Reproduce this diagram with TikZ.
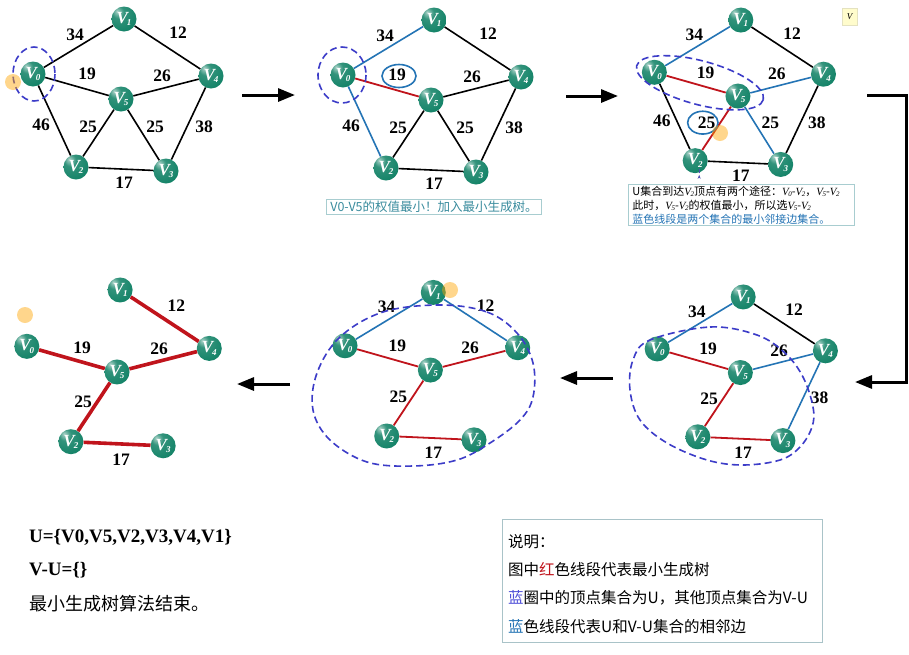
\documentclass[tikz,border=0pt]{standalone}
\usepackage{fontspec}
\setmainfont{Liberation Serif}
\newfontfamily\cjk{Noto Sans CJK SC}
\usetikzlibrary{arrows.meta,positioning,calc}
\definecolor{vgreen}{HTML}{0E8064}
\definecolor{ered}{HTML}{C0141C}
\definecolor{eblue}{HTML}{2474B5}
\definecolor{ringblue}{HTML}{3C3CC8}
\definecolor{notetxt}{HTML}{3A8C9E}
\definecolor{noteline}{HTML}{A8CDD0}
\definecolor{legline}{HTML}{A9C3C8}
\definecolor{legviolet}{HTML}{5050D8}
% green sphere with a highlight at the upper left
\pgfdeclareradialshading{sphere}{\pgfpoint{-14bp}{16bp}}{%
  color(0bp)=(vgreen!35!white); color(12bp)=(vgreen!85!white);
  color(40bp)=(vgreen); color(58bp)=(vgreen!60!black); color(80bp)=(vgreen!50!black)}

% vertex label and italic V_i inside notes
\newcommand{\vl}[1]{V\kern-1pt\raisebox{-2.5pt}{\fontsize{9}{9}\selectfont #1}}
\newcommand{\vi}[1]{{\rmfamily\itshape V\kern-0.5pt\raisebox{-1.5pt}{\fontsize{7}{7}\selectfont #1}}}
% the six vertices of one step, names #10 ... #15
\newcommand{\vertices}[1]{%
  \node[vtx] (#10) at (33,74) {\vl0};
  \node[vtx] (#11) at (124,19) {\vl1};
  \node[vtx] (#12) at (76,167) {\vl2};
  \node[vtx] (#13) at (166,171) {\vl3};
  \node[vtx] (#14) at (211,76) {\vl4};
  \node[vtx] (#15) at (121,99) {\vl5};}
% all nine weights
\newcommand{\allweights}[1]{%
  \node[wt] (#1w34) at (75,35) {34};
  \node[wt] (#1w12) at (178,33) {12};
  \node[wt] (#1w19) at (87,74) {19};
  \node[wt] (#1w26) at (162,76) {26};
  \node[wt] (#1w46) at (41,125) {46};
  \node[wt] (#1w25l) at (88,127) {25};
  \node[wt] (#1w25r) at (155,127) {25};
  \node[wt] (#1w38) at (204,127) {38};
  \node[wt] (#1w17) at (124,183) {17};}

\begin{document}
\begin{tikzpicture}[x=1pt, y=-1pt,
  vtx/.style={circle, shading=sphere, minimum size=25pt, inner sep=0pt, text=white, font=\fontsize{17}{17}\selectfont\bfseries\itshape},
  wt/.style={font=\fontsize{17.5}{17.5}\selectfont\bfseries, inner sep=0pt},
  ed/.style={draw=black, line width=1.6pt},
  rd/.style={draw=ered, line width=1.8pt},
  bd/.style={draw=eblue, line width=1.6pt},
  mst/.style={draw=ered, line width=3.6pt},
  uset/.style={draw=ringblue, line width=1.6pt, dash pattern=on 7pt off 4pt},
  pick/.style={draw=eblue, line width=1.6pt},
  flow/.style={-{Triangle[length=17pt, width=13pt]}, line width=3pt},
  note/.style={draw=noteline, fill=white, line width=0.8pt, inner xsep=4pt, inner ysep=1.5pt},
  legtxt/.style={anchor=west, inner sep=0pt, font=\cjk\fontsize{15.5}{15.5}\selectfont},
  cursor/.style={fill=orange!70!yellow, opacity=0.45}]
\useasboundingbox (0,0) rectangle (909,654);
\fill[white] (0,0) rectangle (909,654);

% step 1: start from V0
\begin{scope}
\vertices{a}
\draw[ed] (a0) -- (a1) (a1) -- (a4) (a0) -- (a5) (a5) -- (a4) (a0) -- (a2)
  (a5) -- (a2) (a5) -- (a3) (a4) -- (a3) (a2) -- (a3);
\allweights{a}
\draw[uset] (34,74) ellipse [x radius=21, y radius=27];
\end{scope}

% step 2
\begin{scope}[shift={(310,1)}]
\vertices{b}
\draw[ed] (b1) -- (b4) (b5) -- (b4) (b5) -- (b2) (b5) -- (b3) (b4) -- (b3) (b2) -- (b3);
\draw[bd] (b0) -- (b1) (b0) -- (b2);
\draw[rd] (b0) -- (b5);
\allweights{b}
\draw[pick] (89,75) ellipse [x radius=17, y radius=11.5];
\draw[uset] (32,74) ellipse [x radius=24, y radius=28];
\end{scope}
\node[note, text=notetxt, font=\cjk\fontsize{12.5}{14}\selectfont, minimum width=207pt] (note2) at (434,207) {V0-V5的权值最小！加入最小生成树。};

% step 3
\begin{scope}[shift={(623,2)}, scale=0.95]
\vertices{c}
\draw[ed] (c1) -- (c4) (c0) -- (c2) (c4) -- (c3) (c2) -- (c3);
\draw[bd] (c0) -- (c1) (c5) -- (c4) (c5) -- (c3);
\draw[rd] (c0) -- (c5) (c5) -- (c2);
\allweights{c}
\draw[pick] (84,127) ellipse [x radius=16, y radius=12];
\draw[uset] (81,85) ellipse [x radius=69, y radius=23, rotate=-15];
\end{scope}
\node[note, anchor=north west, align=left, text width=218pt, font=\cjk\fontsize{11}{14}\selectfont] (note3) at (628,184)
  {U集合到达\vi2顶点有两个途径：\vi0-\vi2，\vi5-\vi2\\
   此时，\vi5-\vi2的权值最小，所以选\vi5-\vi2\\
   \textcolor{eblue}{蓝色线段是两个集合的最小邻接边集合。}};
\draw[-{Stealth[length=4pt]}, draw=gray!60!blue, line width=0.6pt, shorten >=1.5pt] ($(c2.south)+(4,0)$ |- note3.north) -- ($(c2.south)+(4,0)$);

% step 4
\begin{scope}[shift={(626,279)}, scale=0.945]
\vertices{d}
\draw[ed] (d1) -- (d4);
\draw[bd] (d0) -- (d1) (d5) -- (d4) (d4) -- (d3);
\draw[rd] (d0) -- (d5) (d5) -- (d2) (d2) -- (d3);
\node[wt] (dw34) at (75,35) {34};
\node[wt] (dw12) at (178,33) {12};
\node[wt] (dw19) at (87,74) {19};
\node[wt] (dw26) at (162,76) {26};
\node[wt] (dw25) at (88,127) {25};
\node[wt] (dw38) at (205,126) {38};
\node[wt] (dw17) at (124,184) {17};
\end{scope}
\draw[uset] plot[smooth cycle, tension=0.6] coordinates {(650,340) (710,327) (757,335) (785,353) (803,377) (813,407) (812,427) (800,447) (780,460) (743,465) (707,460) (667,443) (640,420) (630,390) (633,360)};

% step 5
\begin{scope}[shift={(313,274)}, scale=0.97]
\vertices{e}
\draw[bd] (e0) -- (e1) (e1) -- (e4);
\draw[rd] (e0) -- (e5) (e5) -- (e4) (e5) -- (e2) (e2) -- (e3);
\node[wt] (ew34) at (76,34) {34};
\node[wt] (ew12) at (178,33) {12};
\node[wt] (ew19) at (87,74) {19};
\node[wt] (ew26) at (162,76) {26};
\node[wt] (ew25) at (88,127) {25};
\node[wt] (ew17) at (124,184) {17};
\end{scope}
\draw[uset] plot[smooth cycle, tension=0.6] coordinates {(440,305) (487,312) (517,333) (533,363) (533,397) (520,420) (490,443) (457,460) (413,466) (367,462) (330,440) (313,410) (317,373) (340,337) (383,312)};

% step 6: the finished tree
\begin{scope}[shift={(-7,270.5)}, scale=1.025]
\vertices{f}
\draw[mst] (f1) -- (f4) (f0) -- (f5) (f5) -- (f4) (f5) -- (f2) (f2) -- (f3);
\node[wt] (fw12) at (179,34) {12};
\node[wt] (fw19) at (87,75) {19};
\node[wt] (fw26) at (162,76) {26};
\node[wt] (fw25) at (88,128) {25};
\node[wt] (fw17) at (125,185) {17};
\end{scope}

% flow between the steps
\coordinate (s1a) at (242,95); \coordinate (s1b) at (295,95);
\coordinate (s2a) at (566,96); \coordinate (s2b) at (618,96);
\coordinate (s3a) at (867,95); \coordinate (s3b) at (906,382); \coordinate (s3c) at (855,382);
\coordinate (s4a) at (613,378); \coordinate (s4b) at (560,378);
\coordinate (s5a) at (290,384); \coordinate (s5b) at (237,384);
\draw[flow] (s1a) -- (s1b);
\draw[flow] (s2a) -- (s2b);
\draw[flow, line join=miter] (s3a) -| (s3b) -- (s3c);
\draw[flow] (s4a) -- (s4b);
\draw[flow] (s5a) -- (s5b);

% result
\node[anchor=west, inner sep=0pt, font=\fontsize{19}{19}\selectfont\bfseries] (res1) at (29,537) {U=\{V0,V5,V2,V3,V4,V1\}};
\node[anchor=west, inner sep=0pt, font=\fontsize{19}{19}\selectfont\bfseries] (res2) at (29,570) {V-U=\{\}};
\node[anchor=west, inner sep=0pt, font=\cjk\fontsize{18}{18}\selectfont] (res3) at (29,604) {最小生成树算法结束。};

% legend
\node[draw=legline, line width=0.8pt, anchor=north west, minimum width=320pt, minimum height=123pt, inner sep=0pt] (legend) at (502,519) {};
\node[legtxt] (leg1) at ($(legend.north west)+(6,23)$) {说明：};
\node[legtxt] (leg2) at ($(legend.north west)+(6,51)$) {图中\textcolor{ered}{红}色线段代表最小生成树};
\node[legtxt] (leg3) at ($(legend.north west)+(6,79)$) {\textcolor{legviolet}{蓝}圈中的顶点集合为U，其他顶点集合为V-U};
\node[legtxt] (leg4) at ($(legend.north west)+(6,108)$) {\textcolor{eblue}{蓝}色线段代表U和V-U集合的相邻边};

% screen leftovers
\node[draw=yellow!40!gray!40, fill=yellow!20, minimum width=15pt, minimum height=17pt, inner sep=0pt, font=\fontsize{9}{9}\selectfont\itshape] (peek) at (849.5,16.5) {V};
\fill[cursor] (13,82) circle [radius=8];
\fill[cursor] (720,133) circle [radius=8];
\fill[cursor] (450,290) circle [radius=8];
\fill[cursor] (25,315) circle [radius=8];
\end{tikzpicture}
\end{document}
